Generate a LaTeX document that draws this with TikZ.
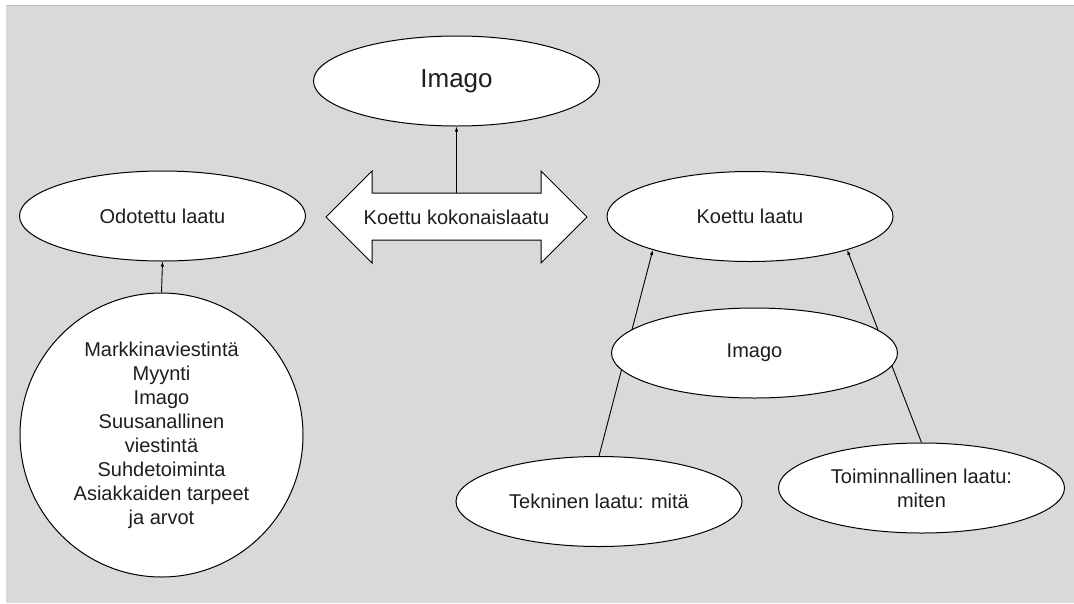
\documentclass[tikz,border=0pt]{standalone}
\usepackage{fontspec}
\setmainfont{Liberation Sans}
\usepackage{tikz}
\usetikzlibrary{arrows.meta,shapes.geometric,positioning}
\definecolor{bggray}{RGB}{217,217,217}
\definecolor{edgegray}{RGB}{190,190,190}
\definecolor{txt}{RGB}{30,30,30}
\tikzset{
  oval/.style={draw=black,line width=1pt,fill=white,ellipse,inner sep=2pt,
    minimum width=286pt,minimum height=90pt,align=center,text=txt,
    font=\fontsize{20}{24}\selectfont},
  arr/.style={line width=0.9pt,-{Latex[length=5pt,width=3.5pt]}},
  plainline/.style={line width=0.9pt}
}
\begin{document}
\begin{tikzpicture}[x=1pt,y=-1pt]
\useasboundingbox (0,0) rectangle (1074,603);
%background
\fill[bggray] (6,5) rectangle (1074,603);
\draw[edgegray,line width=1pt] (6,5.5) -- (1074,5.5);
%top imago
\node[oval,minimum height=90pt,font=\fontsize{26}{30}\selectfont] (imagotop) at (456.5,81) {Imago};
%double arrow in the middle
\draw[line width=1pt,fill=white] (326,217) -- (372,171) -- (372,193) -- (541,193) -- (541,171)
  -- (587,217) -- (541,263) -- (541,240) -- (372,240) -- (372,263) -- cycle;
\node[text=txt,font=\fontsize{20}{24}\selectfont] (kokonais) at (456.5,217) {Koettu kokonaislaatu};
\coordinate (kokotop) at (456.5,193);
\draw[arr] (kokotop) -- (imagotop.south);
%left side
\node[oval] (odotettu) at (162.5,216) {Odotettu laatu};
\node[oval,minimum width=283pt,minimum height=284pt] (tekijat) at (161.5,435)
  {Markkinaviestint\"a\\Myynti\\Imago\\Suusanallinen\\viestint\"a\\Suhdetoiminta\\Asiakkaiden tarpeet\\ja arvot};
\draw[arr] (tekijat.north) -- (odotettu.south);
%right side
\node[oval] (koettu) at (750,216.5) {Koettu laatu};
\node[oval] (tekninen) at (599,501.5) {Tekninen laatu: mit\"a};
\node[oval] (toiminnallinen) at (921.5,488) {Toiminnallinen laatu:\\miten};
\draw[arr] (tekninen.north) -- (koettu.199);
\draw[arr] (toiminnallinen.north) -- (koettu.341);
%imago over the lines
\node[oval] (imagomid) at (754.5,353) {Imago};
\end{tikzpicture}
\end{document}
